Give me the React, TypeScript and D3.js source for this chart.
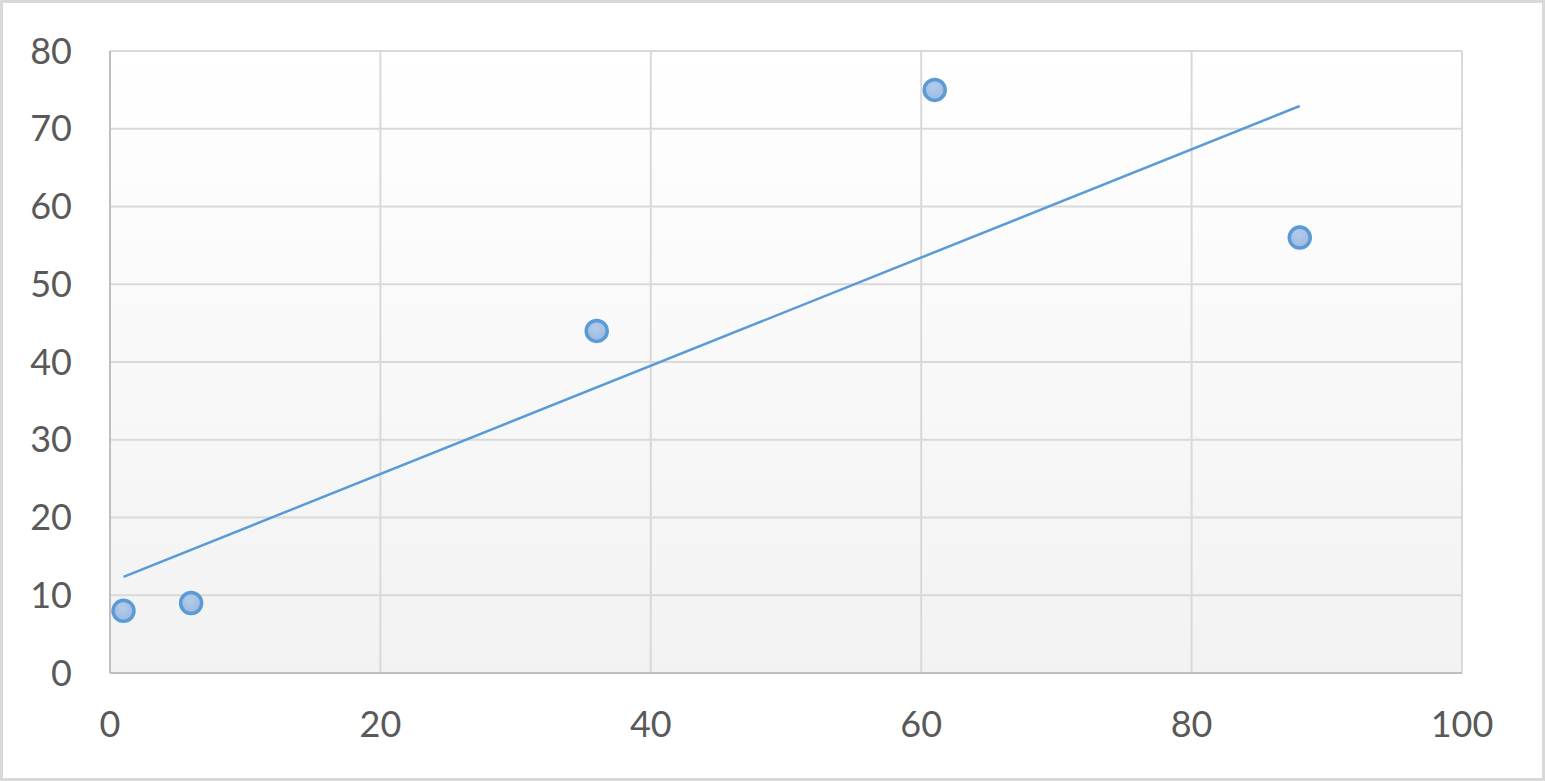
import React from "react";
import * as d3 from "d3";

const xValues = [1, 6, 36, 61, 88];
const yValues = [8, 9, 44, 75, 56];
const xTicks = [0, 20, 40, 60, 80, 100];
const yTicks = [0, 10, 20, 30, 40, 50, 60, 70, 80];

const W = 1545;
const H = 781;
const plot = { left: 110, top: 51, right: 1462, bottom: 673 };

export default function App() {
  const x = d3.scaleLinear().domain([0, 100]).range([plot.left, plot.right]);
  const y = d3.scaleLinear().domain([0, 80]).range([plot.bottom, plot.top]);

  const n = xValues.length;
  const mx = d3.mean(xValues)!;
  const my = d3.mean(yValues)!;
  let sxy = 0, sxx = 0;
  for (let i = 0; i < n; i++) {
    sxy += (xValues[i] - mx) * (yValues[i] - my);
    sxx += (xValues[i] - mx) ** 2;
  }
  const slope = sxy / sxx;
  const intercept = my - slope * mx;
  const x0 = d3.min(xValues)!;
  const x1 = d3.max(xValues)!;
  const trend = d3.line<number>().x((d) => x(d)).y((d) => y(slope * d + intercept))([x0, x1]);

  const font = "Lato, 'Open Sans', sans-serif";

  return (
    <svg width={W} height={H} style={{ position: "fixed", left: 0, top: 0, background: "#fff" }}>
      <defs>
        <linearGradient id="bg" x1="0" y1="0" x2="0" y2="1">
          <stop offset="0" stopColor="#ffffff" />
          <stop offset="1" stopColor="#f2f2f2" />
        </linearGradient>
        <radialGradient id="pt" cx="0.45" cy="0.35" r="0.7">
          <stop offset="0" stopColor="#b4cbea" />
          <stop offset="1" stopColor="#9ab8e0" />
        </radialGradient>
      </defs>
      <rect x={1.5} y={1.5} width={W - 3} height={H - 3} fill="#fff" stroke="#d9d9d9" strokeWidth={3} />
      <rect x={plot.left} y={plot.top} width={plot.right - plot.left} height={plot.bottom - plot.top} fill="url(#bg)" />
      {yTicks.map((t) => (
        <line key={"gy" + t} x1={plot.left} x2={plot.right} y1={y(t)} y2={y(t)} stroke="#d9d9d9" strokeWidth={2} />
      ))}
      {xTicks.map((t) => (
        <line key={"gx" + t} x1={x(t)} x2={x(t)} y1={plot.top} y2={plot.bottom} stroke="#d9d9d9" strokeWidth={2} />
      ))}
      <line x1={plot.left} x2={plot.left} y1={plot.top} y2={plot.bottom} stroke="#bfbfbf" strokeWidth={2} />
      <line x1={plot.left} x2={plot.right} y1={plot.bottom} y2={plot.bottom} stroke="#bfbfbf" strokeWidth={2} />
      {yTicks.map((t) => (
        <text key={"ty" + t} x={72} y={y(t)} dy="0.35em" textAnchor="end" fontFamily={font} fontSize={36} fill="#595959">
          {t}
        </text>
      ))}
      {xTicks.map((t) => (
        <text key={"tx" + t} x={x(t)} y={737} textAnchor="middle" fontFamily={font} fontSize={36} fill="#595959">
          {t}
        </text>
      ))}
      <path d={trend!} fill="none" stroke="#5b9bd5" strokeWidth={2.5} />
      {xValues.map((v, i) => (
        <circle key={"p" + i} cx={x(v)} cy={y(yValues[i])} r={10.5} fill="url(#pt)" stroke="#5b9bd5" strokeWidth={3.5} />
      ))}
    </svg>
  );
}
